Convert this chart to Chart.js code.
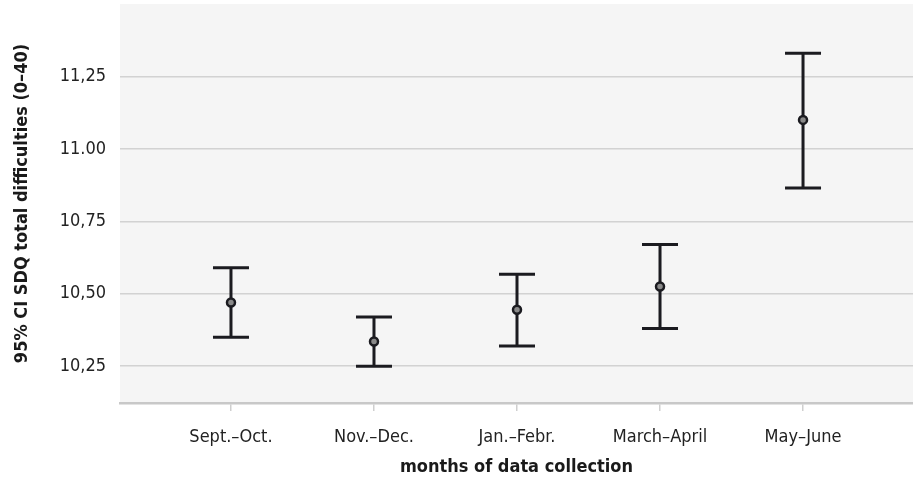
<!DOCTYPE html>
<html>
<head>
<meta charset="utf-8">
<script src="https://cdn.jsdelivr.net/npm/chart.js@4.4.1/dist/chart.umd.min.js"></script>
<style>
  html, body { margin: 0; padding: 0; background: #ffffff; }
  #wrap { width: 913px; height: 483px; position: relative; }
</style>
</head>
<body>
<div id="wrap"><canvas id="c" width="913" height="483"></canvas></div>
<script>
// ---- data ----
const categories = ['Sept.–Oct.', 'Nov.–Dec.', 'Jan.–Febr.', 'March–April', 'May–June'];
const meanValues = [10.47, 10.335, 10.445, 10.525, 11.10];
const lowerCI   = [10.35, 10.25, 10.32, 10.38, 10.865];
const upperCI   = [10.59, 10.42, 10.567, 10.67, 11.33];
const yTickValues = [10.25, 10.50, 10.75, 11.00, 11.25];
const yTickLabels = ['10,25', '10,50', '10,75', '11.00', '11,25'];

const FONT = "'DejaVu Sans Condensed', 'Liberation Sans Narrow', 'DejaVu Sans', sans-serif";
const INK = '#1b1b20';

const bgPlugin = {
  id: 'plotBg',
  beforeDraw(chart) {
    const {ctx, chartArea: a} = chart;
    ctx.save();
    ctx.fillStyle = '#f5f5f5';
    ctx.fillRect(a.left, a.top, a.right - a.left, a.bottom - a.top);
    ctx.restore();
  }
};

const errorBarPlugin = {
  id: 'errorBars',
  beforeDatasetsDraw(chart) {
    const {ctx} = chart;
    const xs = chart.scales.x, ys = chart.scales.y;
    ctx.save();
    ctx.strokeStyle = INK;
    ctx.lineWidth = 3;
    ctx.lineCap = 'butt';
    const half = 18;
    categories.forEach((c, i) => {
      const x = xs.getPixelForValue(i + 1);
      const yl = ys.getPixelForValue(lowerCI[i]);
      const yu = ys.getPixelForValue(upperCI[i]);
      ctx.beginPath();
      ctx.moveTo(x, yu); ctx.lineTo(x, yl);
      ctx.moveTo(x - half, yu); ctx.lineTo(x + half, yu);
      ctx.moveTo(x - half, yl); ctx.lineTo(x + half, yl);
      ctx.stroke();
    });
    ctx.restore();
  }
};

new Chart(document.getElementById('c'), {
  type: 'scatter',
  data: {
    datasets: [{
      data: meanValues.map((v, i) => ({x: i + 1, y: v})),
      pointRadius: 4,
      pointBorderWidth: 2.5,
      pointBorderColor: INK,
      pointBackgroundColor: '#8a8a8a',
      pointHoverRadius: 4
    }]
  },
  options: {
    responsive: false,
    animation: false,
    events: [],
    layout: { autoPadding: false, padding: { top: 4, right: 0, left: 0, bottom: 0 } },
    plugins: { legend: { display: false }, tooltip: { enabled: false } },
    scales: {
      x: {
        type: 'linear',
        min: 0.224,
        max: 5.769,
        afterBuildTicks(scale) { scale.ticks = categories.map((c, i) => ({value: i + 1})); },
        afterFit(scale) { scale.height = 80; scale.paddingLeft = 0; scale.paddingRight = 0; },
        ticks: {
          autoSkip: false,
          maxRotation: 0,
          padding: 16,
          color: '#222',
          font: { family: FONT, size: 18 },
          callback: (v) => categories[Math.round(v) - 1] ?? ''
        },
        grid: { drawOnChartArea: false, drawTicks: true, tickLength: 8, color: '#cfcfcf', lineWidth: 1.5 },
        border: { display: true, color: '#c8c8c8', width: 2.5 },
        title: {
          display: true,
          text: 'months of data collection',
          color: '#1a1a1a',
          font: { family: FONT, size: 18, weight: 'bold' },
          padding: { top: 0, bottom: 5 }
        }
      },
      y: {
        type: 'linear',
        min: 10.123,
        max: 11.5,
        afterBuildTicks(scale) { scale.ticks = yTickValues.map(v => ({value: v})); },
        afterFit(scale) { scale.width = 120; scale.paddingTop = 0; scale.paddingBottom = 0; },
        ticks: {
          padding: 14,
          color: '#222',
          font: { family: FONT, size: 18 },
          callback: (v) => { const i = yTickValues.findIndex(t => Math.abs(t - v) < 1e-6); return i >= 0 ? yTickLabels[i] : ''; }
        },
        grid: { drawTicks: false, color: '#d2d2d2', lineWidth: 1.5 },
        border: { display: false },
        title: {
          display: true,
          text: '95% CI SDQ total difficulties (0–40)',
          color: '#1a1a1a',
          font: { family: FONT, size: 18, weight: 'bold' },
          padding: { top: 12, bottom: 0 }
        }
      }
    }
  },
  plugins: [bgPlugin, errorBarPlugin]
});
</script>
</body>
</html>
